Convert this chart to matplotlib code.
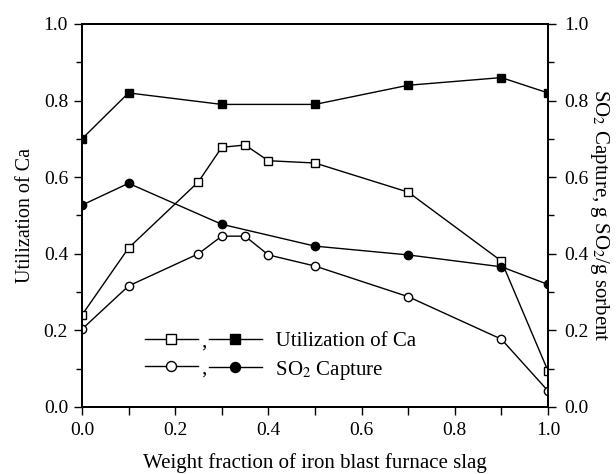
import numpy as np
import matplotlib
matplotlib.use("Agg")
import matplotlib.pyplot as plt
from matplotlib.ticker import MultipleLocator, FormatStrFormatter

plt.rcParams["font.family"] = ["Liberation Serif", "DejaVu Serif"]
plt.rcParams["mathtext.fontset"] = "stix"

# weight fraction of slag
x_full = [0.0, 0.1, 0.3, 0.5, 0.7, 0.9, 1.0]
x_fine = [0.0, 0.1, 0.25, 0.3, 0.35, 0.4, 0.5, 0.7, 0.9, 1.0]

ca_util_filled = [0.70, 0.82, 0.79, 0.79, 0.84, 0.86, 0.82]
ca_util_open = [0.24, 0.415, 0.588, 0.678, 0.684, 0.643, 0.637, 0.561, 0.381, 0.094]
so2_filled = [0.527, 0.584, 0.477, 0.42, 0.397, 0.366, 0.32]
so2_open = [0.203, 0.316, 0.40, 0.446, 0.446, 0.397, 0.368, 0.288, 0.177, 0.042]

fig, ax = plt.subplots(figsize=(6.16, 4.74), dpi=100)
ax2 = ax.twinx()

lw = 1.0
ms = 6
h1, = ax.plot(x_fine, ca_util_open, "k-", marker="s", mfc="white", mec="k", ms=ms, lw=lw)
h2, = ax.plot(x_full, ca_util_filled, "k-", marker="s", mfc="k", mec="k", ms=ms, lw=lw)
h3, = ax2.plot(x_fine, so2_open, "k-", marker="o", mfc="white", mec="k", ms=ms, lw=lw)
h4, = ax2.plot(x_full, so2_filled, "k-", marker="o", mfc="k", mec="k", ms=ms, lw=lw)

for a in (ax, ax2):
    a.set_ylim(0, 1.0)
    a.yaxis.set_major_locator(MultipleLocator(0.2))
    a.yaxis.set_minor_locator(MultipleLocator(0.1))
    a.yaxis.set_major_formatter(FormatStrFormatter("%.1f"))
    a.tick_params(which="both", direction="out", labelsize=14, width=1.0)
    a.tick_params(which="major", length=6)
    a.tick_params(which="minor", length=4)
    for s in a.spines.values():
        s.set_linewidth(1.3)
ax.set_xlim(0, 1.0)
ax.xaxis.set_major_locator(MultipleLocator(0.2))
ax.xaxis.set_minor_locator(MultipleLocator(0.1))
ax.xaxis.set_major_formatter(FormatStrFormatter("%.1f"))
ax.tick_params(axis="x", which="both", length=6, pad=5)
ax.tick_params(axis="y", pad=4)
ax2.tick_params(axis="y", pad=6)

ax.set_xlabel("Weight fraction of iron blast furnace slag", fontsize=15, labelpad=10)
ax.set_ylabel("Utilization of Ca", fontsize=14.5, labelpad=6)
ax2.set_ylabel("SO$_2$ Capture, g SO$_2$/g sorbent", fontsize=15, rotation=270, labelpad=16)

leg = ax.legend([h1, h3, h2, h4], [",", ",", "  Utilization of Ca", "  SO$_2$ Capture"],
                ncol=2, loc="upper left", bbox_to_anchor=(0.135, 0.196), frameon=False,
                fontsize=15, handlelength=2.55, handletextpad=0.15, columnspacing=0.1,
                labelspacing=0.35, borderpad=0, borderaxespad=0, markerscale=1.2)

fig.subplots_adjust(left=0.133, right=0.8896, top=0.9494, bottom=0.1414)
fig.savefig("out.png", dpi=100)
